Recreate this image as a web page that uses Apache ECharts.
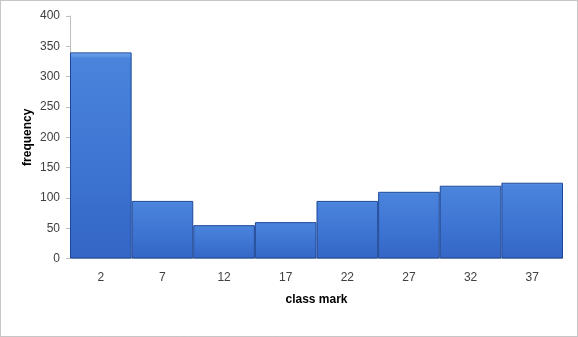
<!DOCTYPE html>
<html>
<head>
<meta charset="utf-8">
<script src="https://cdn.jsdelivr.net/npm/echarts@6/dist/echarts.min.js"></script>
<style>
html,body{margin:0;padding:0;background:#fff;}
#c{width:578px;height:337px;}
</style>
</head>
<body>
<div id="c"></div>
<script>
var categories = ['2', '7', '12', '17', '22', '27', '32', '37'];
var frequency = [340, 95, 55, 60, 95, 110, 120, 125];
var yTicks = [0, 50, 100, 150, 200, 250, 300, 350, 400];

var chart = echarts.init(document.getElementById('c'), null, {renderer: 'canvas'});
chart.setOption({
  animation: false,
  backgroundColor: '#ffffff',
  graphic: [{
    type: 'rect',
    shape: {x: 0.5, y: 0.5, width: 577, height: 336},
    style: {fill: 'none', stroke: '#8c8c8c', lineWidth: 1, lineDash: [1, 1]},
    silent: true
  }],
  grid: {left: 70, right: 15, top: 16, bottom: 78.5},
  xAxis: {
    type: 'category',
    data: categories,
    name: 'class mark',
    nameLocation: 'middle',
    nameGap: 35,
    nameMoveOverlap: false,
    nameTextStyle: {fontFamily: 'Liberation Sans', fontSize: 12, fontWeight: 'bold', color: '#000'},
    axisLine: {lineStyle: {color: '#bfbfbf', width: 1}},
    axisTick: {show: false},
    axisLabel: {fontFamily: 'Liberation Sans', fontSize: 12, color: '#404040', margin: 13}
  },
  yAxis: {
    type: 'value',
    min: yTicks[0],
    max: yTicks[yTicks.length - 1],
    interval: 50,
    name: 'frequency',
    nameLocation: 'middle',
    nameGap: 36,
    nameMoveOverlap: false,
    nameTextStyle: {fontFamily: 'Liberation Sans', fontSize: 12, fontWeight: 'bold', color: '#000'},
    axisLine: {show: true, lineStyle: {color: '#bfbfbf', width: 1}},
    axisTick: {show: true, length: 4, lineStyle: {color: '#bfbfbf'}},
    splitLine: {show: false},
    axisLabel: {fontFamily: 'Liberation Sans', fontSize: 12, color: '#404040', margin: 10}
  },
  series: [{
    type: 'bar',
    data: frequency,
    barCategoryGap: '0%',
    itemStyle: {
      color: new echarts.graphic.LinearGradient(0, 0, 0, 1, [
        {offset: 0, color: '#72adf0'},
        {offset: 0.03, color: '#4a84dc'},
        {offset: 0.5, color: '#3f76d4'},
        {offset: 1, color: '#3466c6'}
      ]),
      borderColor: '#1d4796',
      borderWidth: 1
    }
  }]
});
</script>
</body>
</html>
